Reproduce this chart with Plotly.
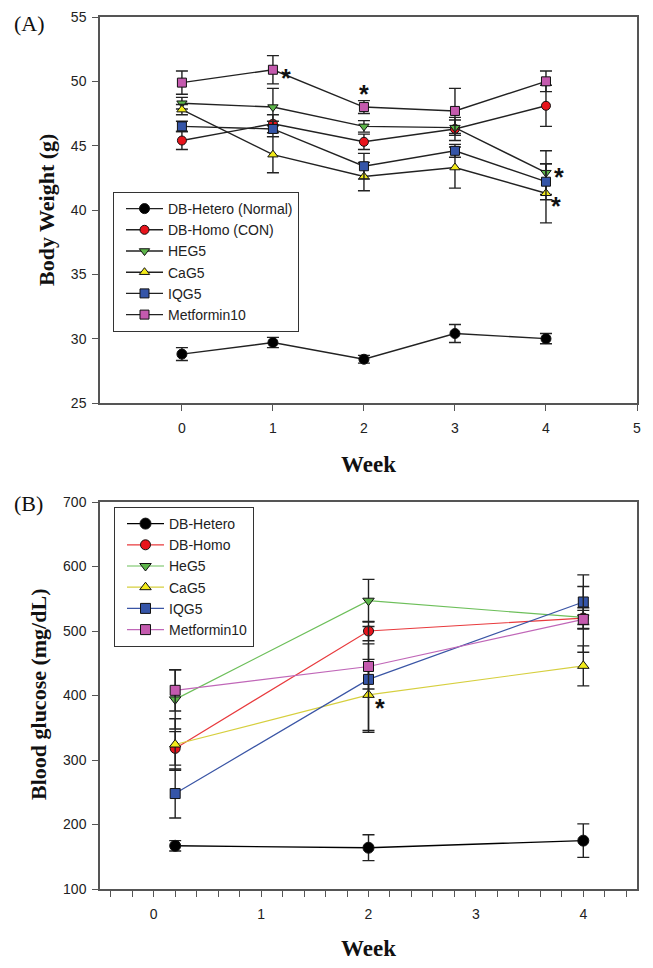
import plotly.graph_objects as go

# The page body has an 8px default margin, so the figure is drawn 8px smaller
# and screen coordinates are converted by removing that offset.
OFF = 8
W, H = 653, 968
FW, FH = W - OFF, H - OFF

# ---------------- Data: panel A (body weight) ----------------
weeks_a = [0, 1, 2, 3, 4]
names_a = ["DB-Hetero (Normal)", "DB-Homo (CON)", "HEG5", "CaG5", "IQG5", "Metformin10"]
hetero_a = [28.8, 29.7, 28.4, 30.4, 30.0]
hetero_a_err = [0.5, 0.4, 0.3, 0.7, 0.4]
homo_a = [45.4, 46.7, 45.3, 46.3, 48.1]
homo_a_err = [0.7, 0.7, 0.6, 0.9, 1.6]
heg5_a = [48.3, 48.0, 46.5, 46.4, 42.9]
heg5_a_err = [0.45, 1.45, 0.45, 0.6, 1.7]
cag5_a = [47.8, 44.3, 42.6, 43.3, 41.3]
cag5_a_err = [0.4, 1.4, 1.1, 1.6, 2.3]
iqg5_a = [46.5, 46.3, 43.4, 44.6, 42.2]
iqg5_a_err = [0.4, 0.6, 1.0, 0.5, 1.4]
metf_a = [49.9, 50.9, 48.0, 47.7, 50.0]
metf_a_err = [0.9, 1.1, 0.5, 1.75, 0.8]
star_a_x = [1.14, 2.0, 4.14, 4.11]
star_a_y = [50.75, 49.45, 43.05, 40.8]

# ---------------- Data: panel B (blood glucose) ----------------
weeks_b = [0.2, 2, 4]
names_b = ["DB-Hetero", "DB-Homo", "HeG5", "CaG5", "IQG5", "Metformin10"]
hetero_b = [167, 164, 175]
hetero_b_err = [8, 20, 26]
homo_b = [318, 500, 520]
homo_b_err = [26, 15, 16]
heg5_b = [394, 547, 521]
heg5_b_err = [46, 33, 11]
cag5_b = [324, 401, 446]
cag5_b_err = [40, 55, 31]
iqg5_b = [248, 425, 545]
iqg5_b_err = [38, 82, 42]
metf_b = [408, 445, 518]
metf_b_err = [32, 35, 51]
star_b_x = [2.11]
star_b_y = [390]

# ---------------- Styles ----------------
fills = ["#000000", "#e8141c", "#5db54a", "#f2ea1a", "#3555a8", "#c45aae"]
symbols = ["circle", "circle", "triangle-down", "triangle-up", "square", "square"]
bline = ["#000000", "#e83a3d", "#6dbf5a", "#d6cf3e", "#3a55a5", "#c067b8"]

def px_x(p):
    return (p - OFF) / FW

def px_y(p):
    return 1 - (p - OFF) / FH

fig = go.Figure()

series_a = [(hetero_a, hetero_a_err), (homo_a, homo_a_err), (heg5_a, heg5_a_err),
            (cag5_a, cag5_a_err), (iqg5_a, iqg5_a_err), (metf_a, metf_a_err)]
for i, (vals, errs) in enumerate(series_a):
    fig.add_trace(go.Scatter(
        x=weeks_a, y=vals, name=names_a[i], mode="lines+markers",
        xaxis="x", yaxis="y", legend="legend",
        line=dict(color="#222222", width=1.4),
        marker=dict(symbol=symbols[i], size=9 if i else 10, color=fills[i],
                    line=dict(color="#111111", width=1)),
        error_y=dict(type="data", array=errs, visible=True, color="#222222",
                     thickness=1.4, width=6),
    ))

series_b = [(hetero_b, hetero_b_err), (homo_b, homo_b_err), (heg5_b, heg5_b_err),
            (cag5_b, cag5_b_err), (iqg5_b, iqg5_b_err), (metf_b, metf_b_err)]
for i, (vals, errs) in enumerate(series_b):
    fig.add_trace(go.Scatter(
        x=weeks_b, y=vals, name=names_b[i], mode="lines+markers",
        xaxis="x2", yaxis="y2", legend="legend2",
        line=dict(color=bline[i], width=1.2 if i else 1.4),
        marker=dict(symbol=symbols[i], size=10 if i else 11, color=fills[i],
                    line=dict(color="#111111", width=1)),
        error_y=dict(type="data", array=errs, visible=True, color="#222222",
                     thickness=1.4, width=6),
    ))

axis_common = dict(showline=True, linecolor="#555555", linewidth=1.5, mirror=True,
                   showgrid=False, zeroline=False, ticks="outside", ticklen=6,
                   tickwidth=1.3, tickcolor="#555555", automargin=False,
                   tickfont=dict(family="Liberation Sans", size=14, color="#222222"))

legend_common = dict(xanchor="left", yanchor="top", bgcolor="white",
                     bordercolor="#333333", borderwidth=1, tracegroupgap=0,
                     itemwidth=37, indentation=7,
                     font=dict(family="Liberation Sans", size=14, color="#222222"))

fig.update_layout(
    width=FW, height=FH, margin=dict(l=0, r=0, t=0, b=0, autoexpand=False),
    paper_bgcolor="white", plot_bgcolor="white", showlegend=True,
    xaxis=dict(domain=[px_x(100), px_x(637)], anchor="y", range=[-0.9, 5],
               tickmode="array", tickvals=[0, 1, 2, 3, 4, 5], ticklabelstandoff=5,
               **axis_common),
    yaxis=dict(domain=[px_y(403), px_y(17)], anchor="x", range=[25, 55],
               tickmode="array", tickvals=[25, 30, 35, 40, 45, 50, 55], ticklabelstandoff=3,
               **axis_common),
    xaxis2=dict(domain=[px_x(100), px_x(637)], anchor="y2", range=[-0.5, 4.5],
                tickmode="array", tickvals=[0, 1, 2, 3, 4], ticklabelstandoff=5,
                minor=dict(ticks="outside", ticklen=6, tickwidth=1.3, tickcolor="#555555",
                           dtick=0.2, tick0=0, showgrid=False),
                **axis_common),
    yaxis2=dict(domain=[px_y(889), px_y(502)], anchor="x2", range=[100, 700],
                tickmode="array", tickvals=[100, 200, 300, 400, 500, 600, 700],
                ticklabelstandoff=3, **axis_common),
    legend=dict(x=px_x(113), y=px_y(192), **legend_common),
    legend2=dict(x=px_x(114), y=px_y(507), **legend_common),
)

ann = []
for sx, sy in zip(star_a_x, star_a_y):
    ann.append(dict(x=sx, y=sy, xref="x", yref="y", text="<b>*</b>", showarrow=False,
                    font=dict(family="Liberation Sans", size=25, color="#111111"),
                    yshift=-6))
for sx, sy in zip(star_b_x, star_b_y):
    ann.append(dict(x=sx, y=sy, xref="x2", yref="y2", text="<b>*</b>", showarrow=False,
                    font=dict(family="Liberation Sans", size=25, color="#111111"),
                    yshift=-6))

serif = "Liberation Serif"
ann += [
    dict(x=px_x(12), y=px_y(23), xref="paper", yref="paper", text="(A)", showarrow=False,
         xanchor="left", yanchor="middle", font=dict(family=serif, size=22, color="#111")),
    dict(x=px_x(12), y=px_y(503), xref="paper", yref="paper", text="(B)", showarrow=False,
         xanchor="left", yanchor="middle", font=dict(family=serif, size=22, color="#111")),
    dict(x=px_x(368), y=px_y(464), xref="paper", yref="paper", text="<b>Week</b>",
         showarrow=False, xanchor="center", yanchor="middle",
         font=dict(family=serif, size=23, color="#111")),
    dict(x=px_x(368), y=px_y(948), xref="paper", yref="paper", text="<b>Week</b>",
         showarrow=False, xanchor="center", yanchor="middle",
         font=dict(family=serif, size=23, color="#111")),
    dict(x=px_x(46), y=px_y(210), xref="paper", yref="paper", text="<b>Body Weight (g)</b>",
         showarrow=False, textangle=-90, xanchor="center", yanchor="middle",
         font=dict(family=serif, size=22, color="#111")),
    dict(x=px_x(38), y=px_y(695), xref="paper", yref="paper",
         text="<b>Blood glucose (mg/dL)</b>", showarrow=False, textangle=-90,
         xanchor="center", yanchor="middle", font=dict(family=serif, size=22, color="#111")),
]
fig.update_layout(annotations=ann)

fig.write_html("out.html")
